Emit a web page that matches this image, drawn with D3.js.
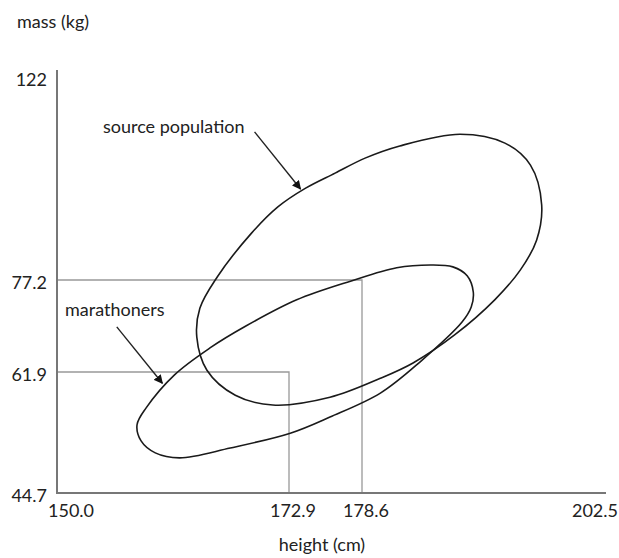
<!DOCTYPE html>
<html>
<head>
<meta charset="utf-8">
<script src="https://cdn.jsdelivr.net/npm/d3@7"></script>
<style>
  body { margin: 0; background: #fff; }
  text { font-family: Lato, "Open Sans", sans-serif; fill: #222; }
</style>
</head>
<body>
<div id="chart"></div>
<script>
// tick values (the axes of the original are schematic, not linear)
var xTicks = [150.0, 172.9, 178.6, 202.5];
var yTicks = [44.7, 61.9, 77.2, 122];

// reference values marked by guide lines: [height, mass]
var guides = [[172.9, 61.9], [178.6, 77.2]];

// outline of the source population (height cm, mass kg)
var sourceHeight = [163.8, 164.1, 165.8, 169.2, 171.8, 174.2, 176.5, 178.9, 182.3, 188.2, 192.6, 195.1,
                    196.2, 195.7, 194.1, 191.6, 187.7, 183.6, 180.4, 176.1, 171.3, 167.6, 164.8];
var sourceMass   = [67.7, 72.5, 77.8, 87.2, 92.8, 96.8, 100.0, 103.2, 105.8, 108.3, 106.4, 101.7,
                    93.2, 85.7, 79.3, 73.9, 68.1, 63.4, 61.0, 58.3, 57.2, 58.6, 62.2];

// outline of the marathoners
var marathonHeight = [157.9, 158.8, 161.6, 165.1, 168.6, 173.5, 177.7, 182.0, 185.3, 187.5, 188.9,
                      189.5, 189.3, 188.4, 184.3, 180.4, 176.1, 173.0, 167.1, 162.1, 159.7, 158.3];
var marathonMass   = [54.4, 56.8, 61.5, 65.9, 69.5, 73.9, 77.0, 79.8, 80.4, 80.0, 78.1,
                      75.2, 72.7, 70.2, 63.6, 58.9, 55.5, 53.2, 51.1, 49.7, 50.4, 52.1];

// annotations: label, arrow tail [h, m], arrow head [h, m]
var labels = ["source population", "marathoners"];
var arrowTail = [[169.5, 108.8], [155.9, 69.4]];
var arrowHead = [[173.8, 96.6], [160.4, 60.3]];

var width = 619, height = 558;

var svg = d3.select("#chart")
    .append("svg")
    .attr("width", width)
    .attr("height", height);

// piecewise scales so the tick values land where the original puts them
var x = d3.scaleLinear()
    .domain(xTicks)
    .range([57, 289, 362, 606]);

var y = d3.scaleLinear()
    .domain(yTicks)
    .range([493, 372, 280, 70]);

svg.append("defs").append("marker")
    .attr("id", "head")
    .attr("viewBox", "0 0 10 10")
    .attr("refX", 9)
    .attr("refY", 5)
    .attr("markerWidth", 9)
    .attr("markerHeight", 9)
    .attr("markerUnits", "userSpaceOnUse")
    .attr("orient", "auto")
    .append("path")
    .attr("d", "M0,0L10,5L0,10z")
    .attr("fill", "#111");

// guide lines
guides.forEach(function (g) {
    svg.append("path")
        .attr("d", "M" + x(150) + "," + y(g[1]) + "H" + x(g[0]) + "V" + y(44.7))
        .attr("fill", "none")
        .attr("stroke", "#999")
        .attr("stroke-width", 1.3);
});

// axes
svg.append("path")
    .attr("d", "M" + x(150) + "," + (y(122)) + "V" + y(44.7) + "H" + x(202.5))
    .attr("fill", "none")
    .attr("stroke", "#777")
    .attr("stroke-width", 2);

// outlines
var line = d3.line()
    .x(d => x(d[0]))
    .y(d => y(d[1]))
    .curve(d3.curveCatmullRomClosed.alpha(0.5));

var shapes = [
    d3.zip(sourceHeight, sourceMass),
    d3.zip(marathonHeight, marathonMass)
];

svg.selectAll(".outline")
    .data(shapes)
    .enter()
    .append("path")
    .attr("class", "outline")
    .attr("d", line)
    .attr("fill", "none")
    .attr("stroke", "#1a1a1a")
    .attr("stroke-width", 1.6);

// tick labels
svg.selectAll(".xtick")
    .data(xTicks)
    .enter()
    .append("text")
    .attr("class", "xtick")
    .attr("x", function (d, i) {
        if (i === 0) return x(d) - 9;
        if (i === xTicks.length - 1) return x(d) + 12;
        return x(d) + 4;
    })
    .attr("y", y(44.7) + 24)
    .attr("text-anchor", function (d, i) {
        if (i === 0) return "start";
        if (i === xTicks.length - 1) return "end";
        return "middle";
    })
    .style("font-size", "18px")
    .text(d => d.toFixed(1));

svg.selectAll(".ytick")
    .data(yTicks)
    .enter()
    .append("text")
    .attr("class", "ytick")
    .attr("x", x(150) - 10)
    .attr("y", (d, i) => y(d) + (i === yTicks.length - 1 ? 16 : 9))
    .attr("text-anchor", "end")
    .style("font-size", "18px")
    .text(d => d === 122 ? "122" : d.toFixed(1));

// axis titles
svg.append("text")
    .attr("x", 17)
    .attr("y", 28)
    .style("font-size", "18px")
    .text("mass (kg)");

svg.append("text")
    .attr("x", 322)
    .attr("y", 551)
    .attr("text-anchor", "middle")
    .style("font-size", "18px")
    .text("height (cm)");

// annotations
labels.forEach(function (lab, i) {
    var t = arrowTail[i], h = arrowHead[i];
    svg.append("line")
        .attr("x1", x(t[0])).attr("y1", y(t[1]))
        .attr("x2", x(h[0])).attr("y2", y(h[1]))
        .attr("stroke", "#222")
        .attr("stroke-width", 1.4)
        .attr("marker-end", "url(#head)");
    svg.append("text")
        .attr("x", i === 0 ? x(t[0]) - 10 : x(t[0]) - 2)
        .attr("y", i === 0 ? y(t[1]) + 1 : y(t[1]) - 11)
        .attr("text-anchor", i === 0 ? "end" : "middle")
        .style("font-size", "18px")
        .text(lab);
});
</script>
</body>
</html>
